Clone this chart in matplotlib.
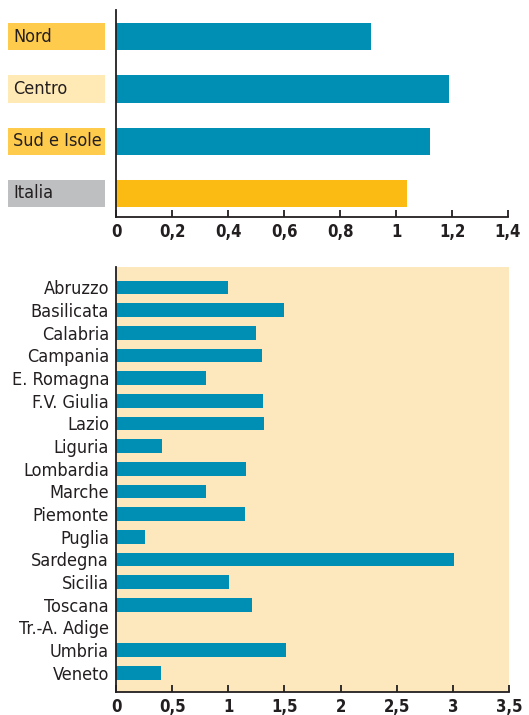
import matplotlib.pyplot as plt
from matplotlib.patches import Rectangle
import matplotlib.transforms as mtransforms

plt.rcParams['font.family'] = ['DejaVu Sans']
plt.rcParams['font.stretch'] = 'condensed'

# area totals
aree = ['Nord', 'Centro', 'Sud e Isole', 'Italia']
valori_aree = [0.91, 1.19, 1.12, 1.04]
colori_barre_aree = ['#008FB4', '#008FB4', '#008FB4', '#FBBB13']
colori_box = ['#FFCB4C', '#FFEAB6', '#FFCB4C', '#BEBFC1']
tick_aree = [0, 0.2, 0.4, 0.6, 0.8, 1, 1.2, 1.4]
tick_aree_lab = ['0', '0,2', '0,4', '0,6', '0,8', '1', '1,2', '1,4']

# regions
regioni = ['Abruzzo', 'Basilicata', 'Calabria', 'Campania', 'E. Romagna',
           'F.V. Giulia', 'Lazio', 'Liguria', 'Lombardia', 'Marche',
           'Piemonte', 'Puglia', 'Sardegna', 'Sicilia', 'Toscana',
           'Tr.-A. Adige', 'Umbria', 'Veneto']
valori_regioni = [1.0, 1.5, 1.25, 1.3, 0.8, 1.31, 1.32, 0.41, 1.16, 0.8,
                  1.15, 0.26, 3.01, 1.01, 1.21, 0.0, 1.51, 0.4]
tick_reg = [0, 0.5, 1, 1.5, 2, 2.5, 3, 3.5]
tick_reg_lab = ['0', '0,5', '1', '1,5', '2', '2,5', '3', '3,5']

testo = '#231F20'
blu = '#008FB4'

fig = plt.figure(figsize=(5.29, 7.15), dpi=100)

# ---- top chart
ax1 = fig.add_axes([0.2193, 0.6965, 0.7410, 0.2895])
y1 = list(range(len(aree)))
ax1.barh(y1, valori_aree, height=0.52, color=colori_barre_aree)
ax1.set_xlim(0, 1.4)
ax1.set_ylim(3.45, -0.51)
ax1.set_yticks([])
ax1.set_xticks(tick_aree)
ax1.set_xticklabels(tick_aree_lab, fontsize=12, fontweight='bold', color=testo)
ax1.tick_params(axis='x', direction='in', length=5, width=1.3, pad=4, color=testo)
for s in ['top', 'right']:
    ax1.spines[s].set_visible(False)
for s in ['left', 'bottom']:
    ax1.spines[s].set_color(testo)
    ax1.spines[s].set_linewidth(1.3)

trans = mtransforms.blended_transform_factory(ax1.transAxes, ax1.transData)
for i in range(len(aree)):
    ax1.add_patch(Rectangle((-0.2755, y1[i] - 0.26), 0.2474, 0.52,
                            transform=trans, facecolor=colori_box[i],
                            edgecolor='none', clip_on=False))
    ax1.text(-0.262, y1[i], aree[i], transform=trans, fontsize=13,
             color=testo, va='center', ha='left')

# ---- bottom chart
ax2 = fig.add_axes([0.2193, 0.0322, 0.7430, 0.5944])
ax2.set_facecolor('#FDE7BD')
y2 = list(range(len(regioni)))
ax2.barh(y2, valori_regioni, height=0.6, color=blu)
ax2.set_xlim(0, 3.5)
ax2.set_ylim(17.85, -0.9)
ax2.set_yticks(y2)
ax2.set_yticklabels(regioni, fontsize=13, color=testo)
ax2.tick_params(axis='y', length=0, pad=5)
ax2.set_xticks(tick_reg)
ax2.set_xticklabels(tick_reg_lab, fontsize=12, fontweight='bold', color=testo)
ax2.tick_params(axis='x', direction='in', length=5, width=1.3, pad=4, color=testo)
for s in ['top', 'right']:
    ax2.spines[s].set_visible(False)
for s in ['left', 'bottom']:
    ax2.spines[s].set_color(testo)
    ax2.spines[s].set_linewidth(1.3)

fig.savefig('out.png', dpi=100)
